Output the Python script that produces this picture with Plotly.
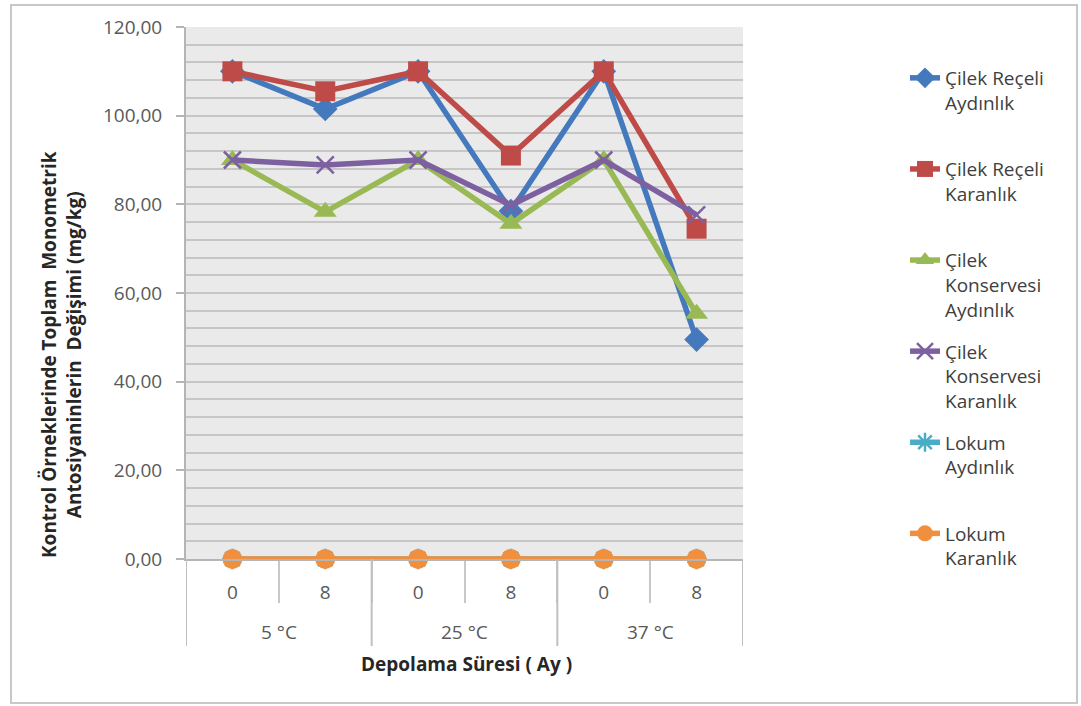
import plotly.graph_objects as go

# Storage temperature groups and storage time (months) per point
temperatures = ["5 °C", "5 °C", "25 °C", "25 °C", "37 °C", "37 °C"]
months = ["0", "8", "0", "8", "0", "8"]

# Total monomeric anthocyanin values (mg/kg) per series
cilek_receli_aydinlik = [110.0, 101.5, 110.0, 78.5, 110.0, 49.5]
cilek_receli_karanlik = [110.0, 105.5, 110.0, 91.0, 110.0, 74.5]
cilek_konservesi_aydinlik = [90.0, 78.3, 90.0, 75.6, 90.0, 55.3]
cilek_konservesi_karanlik = [90.0, 88.9, 90.0, 79.8, 90.0, 77.6]
lokum_aydinlik = [0.0, 0.0, 0.0, 0.0, 0.0, 0.0]
lokum_karanlik = [0.0, 0.0, 0.0, 0.0, 0.0, 0.0]

series_names = [
    "Çilek Reçeli<br>Aydınlık<br>\u00a0",
    "Çilek Reçeli<br>Karanlık<br>\u00a0",
    "Çilek<br>Konservesi<br>Aydınlık",
    "Çilek<br>Konservesi<br>Karanlık",
    "Lokum<br>Aydınlık<br>\u00a0",
    "Lokum<br>Karanlık<br>\u00a0",
]
series_values = [
    cilek_receli_aydinlik,
    cilek_receli_karanlik,
    cilek_konservesi_aydinlik,
    cilek_konservesi_karanlik,
    lokum_aydinlik,
    lokum_karanlik,
]
colors = ["#4579BD", "#BE4B48", "#98B954", "#7D60A0", "#4BACC6", "#F0903F"]
symbols = ["diamond", "square", "triangle-up", "x-thin-open", "asterisk-open", "circle"]
sizes = [19, 20, 20, 17, 17, 20]

# Page geometry (pixels) used to place the plot area and decorations
W, H = 1081, 706
PLOT_L, PLOT_R, PLOT_T, PLOT_B = 186, 743, 27, 559
FONT = "Open Sans, DejaVu Sans, sans-serif"


def px_x(x):
    return (x - PLOT_L) / (PLOT_R - PLOT_L)


def px_y(y):
    return (PLOT_B - y) / (PLOT_B - PLOT_T)


# Category positions on the horizontal axis
positions = list(range(len(months)))

# Temperature groups: centre positions and boundaries between groups
group_labels = []
group_centres = []
boundaries = [-0.5]
start = 0
for i in range(1, len(temperatures) + 1):
    if i == len(temperatures) or temperatures[i] != temperatures[start]:
        group_labels.append(temperatures[start])
        group_centres.append((start + i - 1) / 2)
        boundaries.append(i - 0.5)
        start = i

fig = go.Figure()
for name, vals, col, sym, sz in zip(series_names, series_values, colors, symbols, sizes):
    open_marker = sym.endswith("-open")
    fig.add_trace(
        go.Scatter(
            x=positions,
            y=vals,
            name=name,
            mode="lines+markers",
            line=dict(color=col, width=5.5),
            marker=dict(
                symbol=sym,
                size=sz,
                color=col,
                line=dict(color=col, width=2.5 if open_marker else 0),
            ),
            cliponaxis=False,
            legendgroup=name,
        )
    )

fig.update_layout(
    width=W,
    height=H,
    margin=dict(l=PLOT_L, r=W - PLOT_R, t=PLOT_T, b=H - PLOT_B),
    paper_bgcolor="white",
    plot_bgcolor="#EAEAEA",
    separators=",.",
    font=dict(family=FONT, size=18, color="#595959"),
    showlegend=True,
    legend=dict(
        x=px_x(905),
        y=px_y(59),
        xanchor="left",
        yanchor="top",
        valign="top",
        tracegroupgap=14,
        maxheight=690,
        font=dict(size=19, color="#404040"),
        bgcolor="rgba(0,0,0,0)",
    ),
)

fig.update_yaxes(
    range=[0, 120],
    dtick=20,
    tickformat=".2f",
    showgrid=True,
    gridcolor="#C6C6C6",
    gridwidth=1.5,
    minor=dict(dtick=4, showgrid=True, gridcolor="#C6C6C6", gridwidth=1.5),
    showline=True,
    linecolor="#B5B5B5",
    linewidth=2,
    ticks="outside",
    ticklen=8,
    tickcolor="#B5B5B5",
    tickwidth=1.5,
    ticklabelstandoff=10,
    zeroline=False,
    tickfont=dict(size=19, color="#595959"),
    fixedrange=True,
)

fig.update_xaxes(
    range=[-0.5, len(months) - 0.5],
    tickmode="array",
    tickvals=positions,
    ticktext=months,
    showline=True,
    linecolor="#B5B5B5",
    linewidth=2,
    showgrid=False,
    zeroline=False,
    ticks="",
    ticklabelstandoff=15,
    minor=dict(
        tickmode="array",
        tickvals=[p + 0.5 for p in positions[:-1]],
        ticks="outside",
        ticklen=42,
        tickcolor="#C8C8C8",
        tickwidth=1.5,
        showgrid=False,
    ),
    tickfont=dict(size=19, color="#595959"),
    fixedrange=True,
)

# Temperature group labels and dividers under the category axis
for label, centre in zip(group_labels, group_centres):
    fig.add_annotation(
        text=label,
        xref="x",
        yref="paper",
        x=centre,
        y=px_y(632),
        xanchor="center",
        yanchor="middle",
        showarrow=False,
        font=dict(size=19, color="#595959"),
    )
for b in boundaries:
    fig.add_shape(
        type="line",
        xref="x",
        yref="paper",
        x0=b,
        x1=b,
        y0=px_y(PLOT_B),
        y1=px_y(646),
        line=dict(color="#C0C0C0", width=2),
    )

# Axis titles
fig.add_annotation(
    text="<b>Kontrol Örneklerinde Toplam  Monometrik<br>Antosiyaninlerin  Değişimi (mg/kg)</b>",
    xref="paper",
    yref="paper",
    x=px_x(61),
    y=px_y(355),
    xanchor="center",
    yanchor="middle",
    textangle=-90,
    showarrow=False,
    font=dict(size=19, color="#262626"),
    align="center",
)
fig.add_annotation(
    text="<b>Depolama Süresi ( Ay )</b>",
    xref="paper",
    yref="paper",
    x=px_x(466),
    y=px_y(664),
    xanchor="center",
    yanchor="middle",
    showarrow=False,
    font=dict(size=19, color="#262626"),
)

# Chart frame
fig.add_shape(
    type="rect",
    xref="paper",
    yref="paper",
    x0=px_x(11),
    x1=px_x(1077),
    y0=px_y(703),
    y1=px_y(5),
    line=dict(color="#C8C8C8", width=2),
    layer="below",
)

fig.write_html("out.html")
